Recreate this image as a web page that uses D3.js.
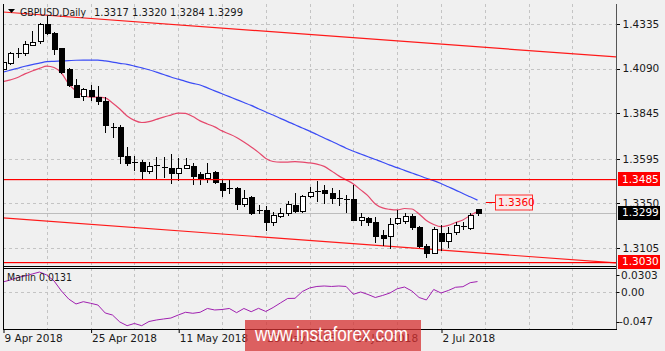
<!DOCTYPE html>
<html><head><meta charset="utf-8">
<script src="https://cdn.jsdelivr.net/npm/d3@7"></script>
<style>
html,body{margin:0;padding:0;background:#f0f0f0;}
svg{display:block;font-family:"DejaVu Sans",sans-serif;}
</style></head><body>
<svg id="c" width="665" height="351"></svg>
<script>
// ---- data ----
const symbolTitle = "GBPUSD,Daily";
const lastQuote = "1.3317 1.3320 1.3284 1.3299";
const tickLabels = ["9 Apr 2018","25 Apr 2018","11 May 2018","29 May 2018","14 Jun 2018","2 Jul 2018"];
const tickBars = [0,12,24,36,48,60];
const priceTicks = [1.4335,1.4090,1.3845,1.3595,1.3350,1.3105];
const marlinTicks = [0.0303,0.00,-0.047];
const open = [1.4088,1.4123,1.4176,1.4174,1.4221,1.4243,1.4333,1.4284,1.4202,1.4086,
1.4000,1.3940,1.3973,1.3933,1.3912,1.3770,1.3768,1.3612,1.3578,1.3579,
1.3530,1.3559,1.3552,1.3547,1.3515,1.3546,1.3558,1.3510,1.3487,1.3520,
1.3464,1.3433,1.3433,1.3347,1.3383,1.3316,1.3314,1.3250,1.3283,1.3296,
1.3341,1.3310,1.3392,1.3420,1.3424,1.3409,1.3380,1.3375,1.3373,1.3259,
1.3268,1.3250,1.3177,1.3171,1.3241,1.3255,1.3283,1.3222,1.3114,1.3078,
1.3186,1.3144,1.3195,1.3228,1.3213,1.3317];
const high = [1.4154,1.4183,1.4203,1.4243,1.4298,1.4340,1.4379,1.4293,1.4205,1.4092,
1.4031,1.3982,1.4000,1.3995,1.3933,1.3792,1.3781,1.3660,1.3610,1.3588,
1.3576,1.3607,1.3607,1.3620,1.3598,1.3599,1.3570,1.3524,1.3570,1.3527,
1.3476,1.3481,1.3442,1.3422,1.3388,1.3341,1.3336,1.3305,1.3323,1.3365,
1.3406,1.3396,1.3442,1.3473,1.3451,1.3433,1.3424,1.3396,1.3451,1.3299,
1.3277,1.3277,1.3204,1.3268,1.3314,1.3296,1.3292,1.3226,1.3127,1.3218,
1.3232,1.3223,1.3250,1.3250,1.3297,1.3320];
const low = [1.4071,1.4115,1.4154,1.4165,1.4220,1.4231,1.4280,1.4169,1.4064,1.3995,
1.3933,1.3918,1.3918,1.3894,1.3744,1.3716,1.3570,1.3561,1.3534,1.3488,
1.3515,1.3488,1.3497,1.3460,1.3479,1.3543,1.3454,1.3457,1.3469,1.3460,
1.3391,1.3406,1.3319,1.3336,1.3294,1.3299,1.3204,1.3232,1.3277,1.3286,
1.3305,1.3305,1.3387,1.3363,1.3351,1.3351,1.3341,1.3305,1.3257,1.3232,
1.3232,1.3140,1.3122,1.3104,1.3235,1.3241,1.3208,1.3112,1.3056,1.3077,
1.3094,1.3112,1.3182,1.3210,1.3210,1.3284];
const close = [1.4126,1.4174,1.4172,1.4224,1.4236,1.4333,1.4284,1.4198,1.4073,1.4000,
1.3936,1.3977,1.3940,1.3912,1.3781,1.3766,1.3612,1.3572,1.3574,1.3530,
1.3557,1.3555,1.3548,1.3515,1.3543,1.3561,1.3503,1.3492,1.3517,1.3469,
1.3424,1.3429,1.3347,1.3380,1.3296,1.3313,1.3250,1.3286,1.3296,1.3347,
1.3310,1.3391,1.3414,1.3416,1.3406,1.3381,1.3376,1.3371,1.3259,1.3277,
1.3246,1.3171,1.3159,1.3235,1.3268,1.3281,1.3219,1.3116,1.3079,1.3208,
1.3145,1.3190,1.3232,1.3227,1.3286,1.3299];
const maRed = [1.4018,1.4028,1.4041,1.4061,1.4077,1.4091,1.4104,1.4096,1.4066,1.4006,
1.3967,1.3942,1.3933,1.3933,1.3929,1.3901,1.3868,1.3830,1.3806,1.3794,
1.3799,1.3811,1.3824,1.3835,1.3846,1.3844,1.3827,1.3803,1.3786,1.3770,
1.3748,1.3731,1.3712,1.3687,1.3660,1.3630,1.3597,1.3580,1.3576,1.3577,
1.3579,1.3577,1.3572,1.3566,1.3553,1.3528,1.3501,1.3479,1.3457,1.3424,
1.3391,1.3347,1.3325,1.3317,1.3314,1.3322,1.3319,1.3292,1.3256,1.3234,
1.3222,1.3229,1.3245,1.3259,1.3284,1.3305];
const maBlue = [1.4071,1.4081,1.4092,1.4103,1.4112,1.4120,1.4128,1.4130,1.4132,1.4134,
1.4136,1.4137,1.4137,1.4137,1.4132,1.4126,1.4119,1.4113,1.4104,1.4094,
1.4084,1.4071,1.4058,1.4044,1.4032,1.4020,1.4009,1.4000,1.3984,1.3968,
1.3952,1.3936,1.3920,1.3904,1.3888,1.3870,1.3852,1.3835,1.3817,1.3799,
1.3782,1.3764,1.3747,1.3728,1.3709,1.3691,1.3672,1.3653,1.3636,1.3621,
1.3606,1.3591,1.3576,1.3560,1.3546,1.3531,1.3517,1.3503,1.3488,1.3475,
1.3459,1.3441,1.3423,1.3404,1.3386,1.3368];
const marlin = [0.0126,0.0151,0.0183,0.0202,0.0227,0.0252,0.0214,0.0138,0.0012,-0.0090,
-0.0153,-0.0124,-0.0144,-0.0166,-0.0267,-0.0293,-0.0381,-0.0428,-0.0400,-0.0428,
-0.0375,-0.0356,-0.0343,-0.0331,-0.0293,-0.0258,-0.0271,-0.0258,-0.0210,-0.0229,
-0.0223,-0.0210,-0.0263,-0.0210,-0.0251,-0.0208,-0.0248,-0.0198,-0.0140,-0.0083,
-0.0081,0.0005,0.0050,0.0069,0.0075,0.0069,0.0075,0.0069,-0.0030,-0.0001,
-0.0033,-0.0071,-0.0045,-0.0014,0.0040,0.0062,0.0012,-0.0071,-0.0102,0.0031,
-0.0014,0.0018,0.0059,0.0066,0.0117,0.0131];
const hLevels = [1.3485,1.3030];
const channelBars = [0,84];
const channelUpper = [1.4401,1.4154];
const channelLower = [1.3270,1.3023];
const labelLevel = 1.3360;
const bidPrice = 1.3299;
const watermark = "www.instaforex.com";

// ---- layout ----
const svg = d3.select("#c");
const L = 3, R = 616, T = 4, MB = 266, IT = 268, IB = 329;
const x = d3.scaleLinear().domain([0,84]).range([3,616.2]);
const y = d3.scaleLinear().domain([1.3105,1.4335]).range([248,24]);
const ym = d3.scaleLinear().domain([-0.047,0.0303]).range([IB,IT]);
const px = v => Math.round(v) + 0.5;

const defs = svg.append("defs");
defs.append("clipPath").attr("id","mclip").append("rect").attr("x",L).attr("y",T).attr("width",R-L).attr("height",MB-T);
defs.append("clipPath").attr("id","iclip").append("rect").attr("x",L).attr("y",IT).attr("width",R-L).attr("height",IB-IT);

svg.append("rect").attr("width",665).attr("height",351).attr("fill","#f0f0f0");

// grid
const gridCol = "#c4c4c4";
const vg = d3.range(6,84,6);
const grid = svg.append("g").attr("stroke",gridCol).attr("stroke-dasharray","3,3").attr("shape-rendering","crispEdges");
vg.forEach(b=>{
  grid.append("line").attr("x1",px(x(b))).attr("x2",px(x(b))).attr("y1",T).attr("y2",MB);
  grid.append("line").attr("x1",px(x(b))).attr("x2",px(x(b))).attr("y1",IT).attr("y2",IB);
});
priceTicks.forEach(p=>{
  grid.append("line").attr("x1",L).attr("x2",R).attr("y1",px(y(p))).attr("y2",px(y(p)));
});
grid.append("line").attr("x1",L).attr("x2",R).attr("y1",px(ym(0))).attr("y2",px(ym(0)));

const main = svg.append("g").attr("clip-path","url(#mclip)");

// bid line
main.append("line").attr("x1",L).attr("x2",R).attr("y1",px(y(bidPrice))).attr("y2",px(y(bidPrice)))
  .attr("stroke","#bdbdbd").attr("shape-rendering","crispEdges");

// channel
[channelUpper,channelLower].forEach(ch=>{
  const slope = (ch[1]-ch[0])/(channelBars[1]-channelBars[0]);
  main.append("line")
    .attr("x1",x(-1)).attr("y1",y(ch[0]-slope))
    .attr("x2",x(channelBars[1])).attr("y2",y(ch[1]))
    .attr("stroke","#ff1a1a").attr("stroke-width",1.2);
});

// moving averages
const lineGen = arr => d3.line().x((d,i)=>x(i)).y(d=>y(d)).curve(d3.curveMonotoneX)(arr);
main.append("path").attr("d",lineGen(maBlue)).attr("fill","none").attr("stroke","#3b4cf5").attr("stroke-width",1.2);
main.append("path").attr("d",lineGen(maRed)).attr("fill","none").attr("stroke","#e5486c").attr("stroke-width",1.2);

// candles
const cg = main.append("g").attr("shape-rendering","crispEdges");
open.forEach((o,i)=>{
  const c = close[i], cx = px(x(i));
  cg.append("line").attr("x1",cx).attr("x2",cx).attr("y1",Math.round(y(high[i]))).attr("y2",Math.round(y(low[i]))+1).attr("stroke","#000");
  const top = Math.round(y(Math.max(o,c))), bot = Math.round(y(Math.min(o,c)));
  const h = Math.max(1,bot-top);
  if (bot-top < 1.5) {
    cg.append("line").attr("x1",cx-2.5).attr("x2",cx+3.5).attr("y1",top+0.5).attr("y2",top+0.5).attr("stroke","#000");
  } else {
    cg.append("rect").attr("x",cx-2.5).attr("y",top+0.5).attr("width",5).attr("height",h)
      .attr("fill", c>=o ? "#ffffff" : "#000000").attr("stroke","#000");
  }
});

// horizontal levels (drawn over candles)
hLevels.forEach(p=>{
  main.append("rect").attr("x",L).attr("width",R-L).attr("y",Math.round(y(p))).attr("height",1.2)
    .attr("fill","#ff0000");
});

// 1.3360 label
const ly = px(y(labelLevel));
svg.append("line").attr("x1",486).attr("x2",495).attr("y1",ly).attr("y2",ly).attr("stroke","#ff0000");
svg.append("rect").attr("x",495.5).attr("y",ly-7.5).attr("width",37).attr("height",15)
  .attr("fill","#f7eaea").attr("stroke","#ff3030");
svg.append("text").attr("x",498).attr("y",ly).attr("dy","0.35em").attr("font-size",10.5).attr("fill","#ff0000").text(labelLevel.toFixed(4));

// marlin
const ind = svg.append("g").attr("clip-path","url(#iclip)");
ind.append("path").attr("d",d3.line().x((d,i)=>x(i)).y(d=>ym(d))(marlin))
  .attr("fill","none").attr("stroke","#a020b0").attr("stroke-width",1);

// frames
const fr = svg.append("g").attr("fill","none").attr("stroke","#000").attr("shape-rendering","crispEdges");
fr.append("line").attr("x1",px(L)).attr("x2",px(L)).attr("y1",T).attr("y2",IB);
fr.append("line").attr("x1",px(R)).attr("x2",px(R)).attr("y1",T).attr("y2",IB+1).attr("stroke","#555").attr("stroke-width",1);
fr.append("line").attr("x1",L).attr("x2",R).attr("y1",px(MB)).attr("y2",px(MB));
fr.append("line").attr("x1",L).attr("x2",R).attr("y1",px(IT)).attr("y2",px(IT));
fr.append("line").attr("x1",L).attr("x2",R+1).attr("y1",px(IB)).attr("y2",px(IB));

// price axis
const ax = svg.append("g").attr("transform",`translate(${px(R)},0)`)
  .call(d3.axisRight(y).tickValues(priceTicks).tickFormat(d3.format(".4f")).tickSize(3).tickPadding(3));
ax.select(".domain").remove();
ax.selectAll("line").attr("stroke","#000").attr("shape-rendering","crispEdges");
ax.selectAll("text").attr("font-size",10.5).attr("fill","#1a1a1a").attr("font-family","DejaVu Sans");

// price boxes
function priceBox(p, fill){
  const yy = y(p);
  svg.append("rect").attr("x",618).attr("y",Math.round(yy)-7).attr("width",42).attr("height",14).attr("fill",fill);
  svg.append("text").attr("x",622).attr("y",yy).attr("dy","0.36em").attr("font-size",10.5).attr("fill","#fff").text(p.toFixed(4));
}
priceBox(hLevels[0],"#ff0000");
priceBox(bidPrice,"#000000");
priceBox(hLevels[1],"#ff0000");

// marlin axis labels
const mFmt = [d=>"0.0303",d=>"0.00",d=>"-0.047"];
marlinTicks.forEach((v,i)=>{
  let yy = ym(v);
  yy = Math.max(IT+7, Math.min(IB-7.5, yy));
  svg.append("line").attr("x1",px(R)).attr("x2",px(R)+3).attr("y1",px(yy)).attr("y2",px(yy)).attr("stroke","#000");
  svg.append("text").attr("x", v<0?619:621).attr("y",yy).attr("dy","0.36em").attr("font-size",10.5).attr("fill","#1a1a1a").text(mFmt[i](v));
});

// time axis
const xa = svg.append("g").attr("transform",`translate(0,${IB})`)
  .call(d3.axisBottom(x).tickValues(tickBars).tickFormat((d,i)=>tickLabels[i]).tickSize(4).tickPadding(2));
xa.select(".domain").remove();
xa.selectAll("line").attr("stroke","#000").attr("transform","translate(0.5,0)");
xa.selectAll("text").attr("text-anchor","start").attr("dx","1").attr("font-size",10.5).attr("fill","#1a1a1a").attr("font-family","DejaVu Sans");

// title
svg.append("path").attr("d","M8,9 L15,9 L11.5,13 Z").attr("fill","#000");
svg.append("text").attr("x",20).attr("y",12).attr("dy","0.35em").attr("font-size",10.5).attr("fill","#1a1a1a")
  .attr("textLength",66).attr("lengthAdjust","spacingAndGlyphs").text(symbolTitle);
svg.append("text").attr("x",94).attr("y",12).attr("dy","0.35em").attr("font-size",10.5).attr("fill","#1a1a1a")
  .attr("textLength",149).attr("lengthAdjust","spacingAndGlyphs").text(lastQuote);

// marlin label
svg.append("text").attr("x",7).attr("y",277).attr("dy","0.35em").attr("font-size",10.5).attr("fill","#1a1a1a")
  .attr("textLength",65).attr("lengthAdjust","spacingAndGlyphs").text("Marlin " + marlin[marlin.length-1].toFixed(4));

// watermark
svg.append("rect").attr("x",245).attr("y",320).attr("width",176).attr("height",31).attr("fill","rgba(214,48,48,0.75)");
svg.append("text").attr("x",255).attr("y",341).attr("font-size",21).attr("fill","#ffffff").attr("font-family","Liberation Sans, Arial, sans-serif")
  .attr("textLength",153).attr("lengthAdjust","spacingAndGlyphs").text(watermark);
</script>
</body></html>
